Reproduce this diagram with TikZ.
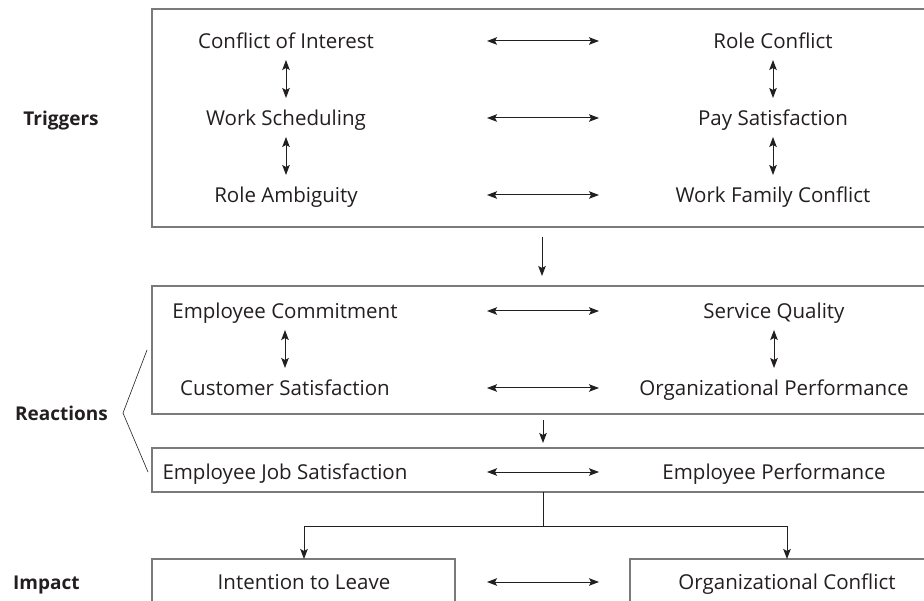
\documentclass[tikz,border=0pt]{standalone}
\usepackage{fontspec}
\setmainfont{Open Sans}
\usetikzlibrary{arrows.meta,calc}
\definecolor{ink}{HTML}{231F20}
\definecolor{frame}{HTML}{7A7A7A}
\begin{document}
\begin{tikzpicture}[x=1pt,y=-1pt,
  txt/.style={inner sep=0pt,text=ink,text height=19pt,text depth=4pt,font=\fontsize{20.5}{24}\selectfont},
  lbl/.style={inner sep=0pt,text=ink,text height=19pt,text depth=4pt,font=\fontsize{19}{23}\selectfont\bfseries},
  panel/.style={draw=frame,line width=1.3pt},
  link/.style={draw=ink,line width=1pt},
  tip/.style={Stealth[length=10pt,width=7.5pt,inset=2pt]},
  both/.style={link,{Stealth[length=10pt,width=7.5pt,inset=2pt]}-{Stealth[length=10pt,width=7.5pt,inset=2pt]}},
  onto/.style={link,-{Stealth[length=10pt,width=7.5pt,inset=2pt]}}]
\useasboundingbox (0,0) rectangle (924,601);
\clip (0,0) rectangle (924,601);
\fill[white] (0,0) rectangle (924,601);

% panels (open past the right and bottom edges)
\draw[panel] (152,9) rectangle (940,227);
\draw[panel] (152,286) rectangle (940,414);
\draw[panel] (152,448) rectangle (940,492);
\draw[panel] (152,559) rectangle (455,620);
\draw[panel] (630,559) rectangle (940,620);

% x positions of the horizontal double arrows
\coordinate (hL) at (487,0);
\coordinate (hR) at (599,0);

% row labels
\node[lbl] (trig) at (61,118) {Triggers};
\node[lbl,anchor=east] (reac) at (108,413) {Reactions};
\node[lbl,anchor=west] (imp) at (13,582) {Impact};

% triggers
\node[txt] (ci) at (286,41) {Conflict of Interest};
\node[txt] (ws) at (286,118) {Work Scheduling};
\node[txt] (ra) at (286,195) {Role Ambiguity};
\node[txt] (rc) at (773,41) {Role Conflict};
\node[txt] (ps) at (773,118) {Pay Satisfaction};
\node[txt] (wf) at (773,195) {Work Family Conflict};

% reactions
\node[txt] (ec) at (285,311) {Employee Commitment};
\node[txt] (cs) at (285,388) {Customer Satisfaction};
\node[txt] (sq) at (774,311) {Service Quality};
\node[txt] (op) at (774,388) {Organizational Performance};
\node[txt] (js) at (285,472) {Employee Job Satisfaction};
\node[txt] (ep) at (774,472) {Employee Performance};

% impact
\node[txt] (il) at (304,582) {Intention to Leave};
\node[txt] (oc) at (787,582) {Organizational Conflict};

% horizontal links
\foreach \a/\b in {ci/rc,ws/ps,ra/wf,ec/sq,cs/op,js/ep,il/oc}
  \draw[both] (hL |- \a) -- (hR |- \b);

% vertical links
\foreach \a/\b in {ci/ws,ws/ra,rc/ps,ps/wf,ec/cs,sq/op}
  \draw[both] ([yshift=-19]\a.center) -- ([yshift=20]\b.center);

% flow between panels
\coordinate (f1) at (542,237);
\coordinate (f2) at (542,276);
\draw[onto] (f1) -- (f2);
\coordinate (f3) at (543,420);
\coordinate (f4) at (543,443);
\draw[onto] (f3) -- (f4);

% split towards the impact boxes
\coordinate (s0) at (543,492);
\coordinate (s1) at (543,526);
\draw[link] (s0) -- (s1);
\draw[onto] (s1) -| ([yshift=23]il.center);
\draw[onto] (s1) -| ([yshift=23]oc.center);

% brace grouping the reaction panels
\coordinate (bt) at (147,350);
\coordinate (bm) at (123,413);
\coordinate (bb) at (148,472);
\draw[draw=ink,line width=0.6pt] (bt) -- (bm) -- (bb);
\end{tikzpicture}
\end{document}
